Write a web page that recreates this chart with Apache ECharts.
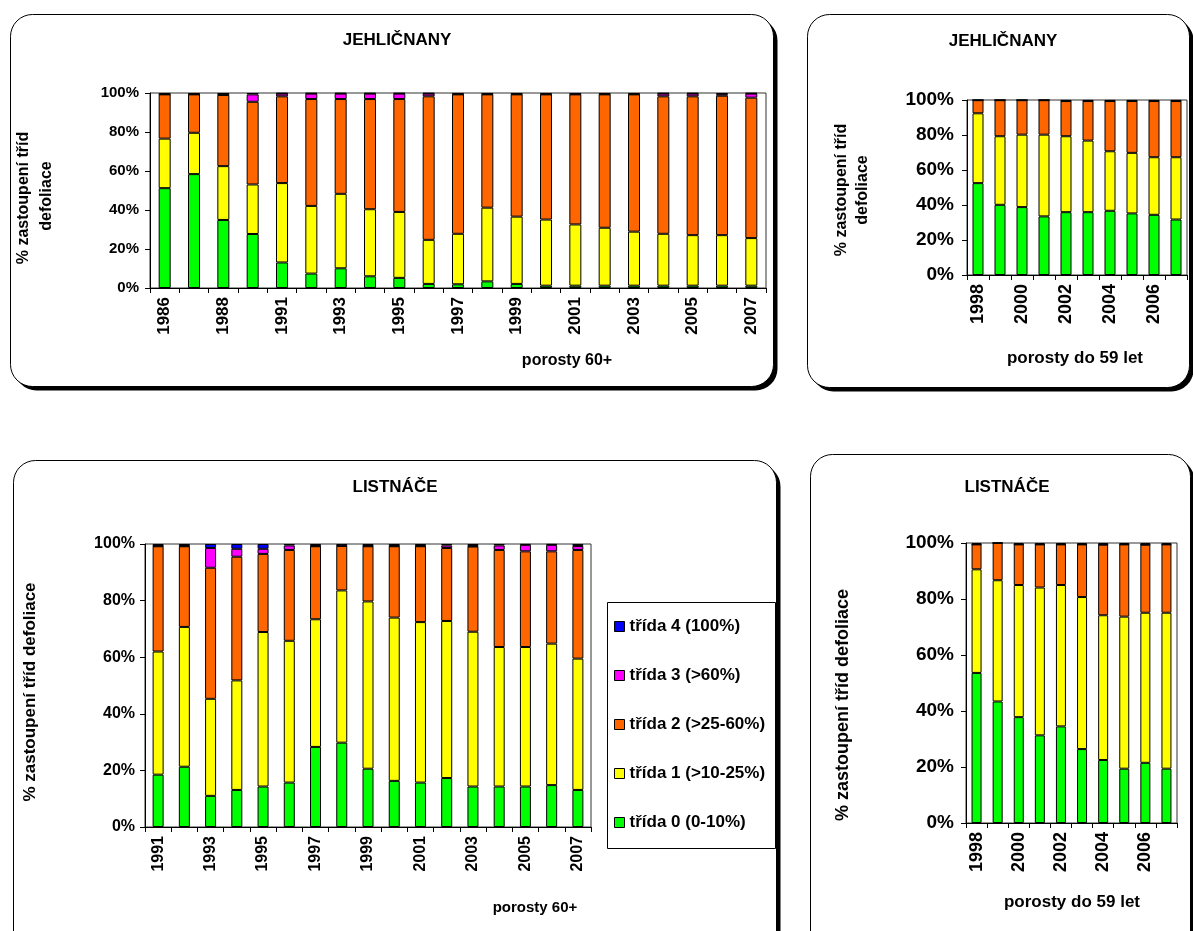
<!DOCTYPE html>
<html>
<head>
<meta charset="utf-8">
<script src="https://cdn.jsdelivr.net/npm/echarts@6/dist/echarts.min.js"></script>
<style>
html,body{margin:0;padding:0;background:#fff;}
#chart{width:1193px;height:931px;}
</style>
</head>
<body>
<div id="chart"></div>
<script>
// ---------- DATA ----------
const classNames = ['třída 0 (0-10%)','třída 1 (>10-25%)','třída 2 (>25-60%)','třída 3 (>60%)','třída 4 (100%)'];
const classColors = ['#00FF00','#FFFF00','#FF6600','#FF00FF','#0000FF'];

// Jehličnany, porosty 60+
const yearsJ60 = ['1986','1987','1988','1990','1991','1992','1993','1994','1995','1996','1997','1998','1999','2000','2001','2002','2003','2004','2005','2006','2007'];
const j60_c0 = [51.2,58.4,34.9,27.7,13.1,7.4,10.1,6.0,5.2,2.1,1.9,3.4,2.1,1.2,1.2,1.2,1.2,1.2,1.2,1.2,1.2];
const j60_c1 = [25.4,21.2,27.6,25.4,40.7,34.7,38.2,34.4,33.8,22.6,25.9,37.8,34.5,33.9,31.4,29.7,27.7,26.6,25.9,25.9,24.4];
const j60_c2 = [22.7,19.7,36.5,42.4,44.5,54.8,48.6,56.5,57.9,73.6,71.5,58.1,62.7,64.2,66.7,68.4,70.4,70.5,71.2,71.5,72.0];
const j60_c3 = [0.1,0.1,0.2,3.8,1.4,2.8,2.8,2.8,2.8,1.4,0.2,0.2,0.2,0.2,0.2,0.2,0.2,1.4,1.4,0.8,2.1];
const j60_c4 = [0.6,0.6,0.8,0.7,0.3,0.3,0.3,0.3,0.3,0.3,0.5,0.5,0.5,0.5,0.5,0.5,0.5,0.3,0.3,0.6,0.3];

// Jehličnany, porosty do 59 let
const yearsJ59 = ['1998','1999','2000','2001','2002','2003','2004','2005','2006','2007'];
const j59_c0 = [52.5,40.1,38.8,33.5,35.9,35.9,36.7,35.2,34.4,31.7];
const j59_c1 = [39.9,39.2,41.4,46.7,43.4,40.9,34.0,34.6,32.9,35.6];
const j59_c2 = [7.5,20.6,19.7,19.7,20.1,22.6,28.7,29.6,32.1,32.1];
const j59_c3 = [0,0,0,0,0.1,0.1,0.1,0.1,0.1,0.1];
const j59_c4 = [0.1,0.1,0.1,0.1,0.5,0.5,0.5,0.5,0.5,0.5];

// Listnáče, porosty 60+
const yearsL60 = ['1991','1992','1993','1994','1995','1996','1997','1998','1999','2000','2001','2002','2003','2004','2005','2006','2007'];
const l60_c0 = [18.5,21.3,11.0,13.1,14.3,15.7,28.3,29.8,20.6,16.3,15.7,17.3,14.3,14.3,14.3,14.8,13.1];
const l60_c1 = [43.5,49.4,34.3,38.7,54.6,50.1,45.1,53.8,59.1,57.7,56.7,55.5,54.7,49.3,49.3,50.0,46.4];
const l60_c2 = [37.2,28.5,46.3,43.7,27.6,32.1,25.8,15.7,19.5,25.2,26.8,25.8,30.1,34.3,33.8,32.6,38.4];
const l60_c3 = [0.1,0.1,7.0,2.8,1.8,1.6,0.1,0.1,0.1,0.1,0.1,0.9,0.2,1.6,2.3,2.3,1.4];
const l60_c4 = [0.7,0.7,1.4,1.7,1.7,0.5,0.7,0.6,0.7,0.7,0.7,0.5,0.7,0.5,0.3,0.3,0.7];

// Listnáče, porosty do 59 let
const yearsL59 = ['1998','1999','2000','2001','2002','2003','2004','2005','2006','2007'];
const l59_c0 = [53.6,43.4,37.8,31.3,34.5,26.4,22.5,19.4,21.5,19.4];
const l59_c1 = [37.0,43.3,47.2,52.8,50.5,54.3,51.7,54.3,53.6,55.7];
const l59_c2 = [8.9,13.3,14.5,15.4,14.5,18.8,25.2,25.8,24.3,24.4];
const l59_c3 = [0,0,0,0,0,0,0,0,0,0];
const l59_c4 = [0.5,0,0.5,0.5,0.5,0.5,0.6,0.5,0.6,0.5];

// ---------- BUILD ----------
const FF = '"Liberation Sans", Arial, sans-serif';
const panels = [
  {years: yearsJ60, cls:[j60_c0,j60_c1,j60_c2,j60_c3,j60_c4], grid:{left:150, top:93, width:616, height:195}, bw:12, xfs:17, yfs:15, ym:11},
  {years: yearsJ59, cls:[j59_c0,j59_c1,j59_c2,j59_c3,j59_c4], grid:{left:967, top:100, width:220, height:175}, bw:11, xfs:18, yfs:19, ym:13},
  {years: yearsL60, cls:[l60_c0,l60_c1,l60_c2,l60_c3,l60_c4], grid:{left:145, top:544, width:446, height:283}, bw:11, xfs:16, yfs:16, ym:10},
  {years: yearsL59, cls:[l59_c0,l59_c1,l59_c2,l59_c3,l59_c4], grid:{left:966, top:543, width:211, height:280}, bw:10, xfs:18, yfs:19, ym:12}
];

const grids = [], xAxes = [], yAxes = [], series = [];
panels.forEach((p, i) => {
  grids.push(Object.assign({show:true, borderColor:'#333', borderWidth:1, backgroundColor:'rgba(0,0,0,0)'}, p.grid));
  xAxes.push({
    type:'category', gridIndex:i, data:p.years,
    axisLine:{show:true, lineStyle:{color:'#000', width:1}},
    axisTick:{show:true, interval:0, length:5, lineStyle:{color:'#000'}},
    axisLabel:{interval:1, rotate:90, margin:9, color:'#000', fontWeight:'bold', fontSize:p.xfs, fontFamily:FF}
  });
  yAxes.push({
    type:'value', gridIndex:i, min:0, max:100, interval:20,
    axisLine:{show:true, lineStyle:{color:'#000', width:1}},
    axisTick:{show:true, length:5, lineStyle:{color:'#000'}},
    splitLine:{show:false},
    axisLabel:{formatter:'{value}%', margin:p.ym, color:'#000', fontWeight:'bold', fontSize:p.yfs, fontFamily:FF}
  });
  p.cls.forEach((arr, c) => {
    series.push({
      type:'bar', name:classNames[c], stack:'s'+i, xAxisIndex:i, yAxisIndex:i,
      barWidth:p.bw, data:arr,
      itemStyle:{color:classColors[c], borderColor:'#000', borderWidth:1},
      emphasis:{disabled:true}, animation:false
    });
  });
});

function txt(text, x, y, size, rot) {
  return {type:'text', x:x, y:y, rotation:rot||0, z:50,
    style:{text:text, fill:'#000', fontSize:size, fontWeight:'bold', fontFamily:FF,
      align:'center', verticalAlign:'middle', textAlign:'center', textVerticalAlign:'middle'}};
}
function box(x, y, w, h) {
  return [
    {type:'rect', z:-20, shape:{x:x+4, y:y+4, width:w, height:h, r:22}, style:{fill:'#000'}},
    {type:'rect', z:-19, shape:{x:x, y:y, width:w, height:h, r:22}, style:{fill:'#fff', stroke:'#000', lineWidth:1}}
  ];
}
const R = Math.PI/2;
const graphics = [].concat(
  box(10.5, 14.5, 763, 372),
  box(807.5, 14.5, 382, 373),
  box(13.5, 460.5, 763, 500),
  box(810.5, 454.5, 380, 500),
  [
    {type:'rect', z:-5, shape:{x:607.5, y:602.5, width:168, height:246}, style:{fill:'#fff', stroke:'#000', lineWidth:1}},
    txt('JEHLIČNANY', 397, 40, 17),
    txt('JEHLIČNANY', 1003, 41, 17),
    txt('LISTNÁČE', 395, 487, 17),
    txt('LISTNÁČE', 1007, 487, 17),
    txt('porosty 60+', 567, 361, 16),
    txt('porosty do 59 let', 1075, 358, 17),
    txt('porosty 60+', 535, 908, 15),
    txt('porosty do 59 let', 1072, 902, 17),
    txt('% zastoupení tříd', 24, 198, 16, R),
    txt('defoliace', 47, 196, 16, R),
    txt('% zastoupení tříd', 842, 190, 16, R),
    txt('defoliace', 863, 190, 16, R),
    txt('% zastoupení tříd defoliace', 30, 692, 17, R),
    txt('% zastoupení tříd defoliace', 843, 705, 18, R)
  ]
);

const chart = echarts.init(document.getElementById('chart'), null, {renderer:'canvas'});
chart.setOption({
  animation:false,
  backgroundColor:'#fff',
  grid:grids, xAxis:xAxes, yAxis:yAxes, series:series,
  legend:{
    orient:'vertical', left:614, top:618, padding:0, itemGap:32,
    itemWidth:10, itemHeight:10, itemTextGap:6, icon:'rect',
    selectedMode:false,
    itemStyle:{borderColor:'#000', borderWidth:1},
    textStyle:{color:'#000', fontWeight:'bold', fontSize:17, fontFamily:FF},
    data:['třída 4 (100%)','třída 3 (>60%)','třída 2 (>25-60%)','třída 1 (>10-25%)','třída 0 (0-10%)']
  },
  graphic:{elements:graphics}
});
</script>
</body>
</html>
